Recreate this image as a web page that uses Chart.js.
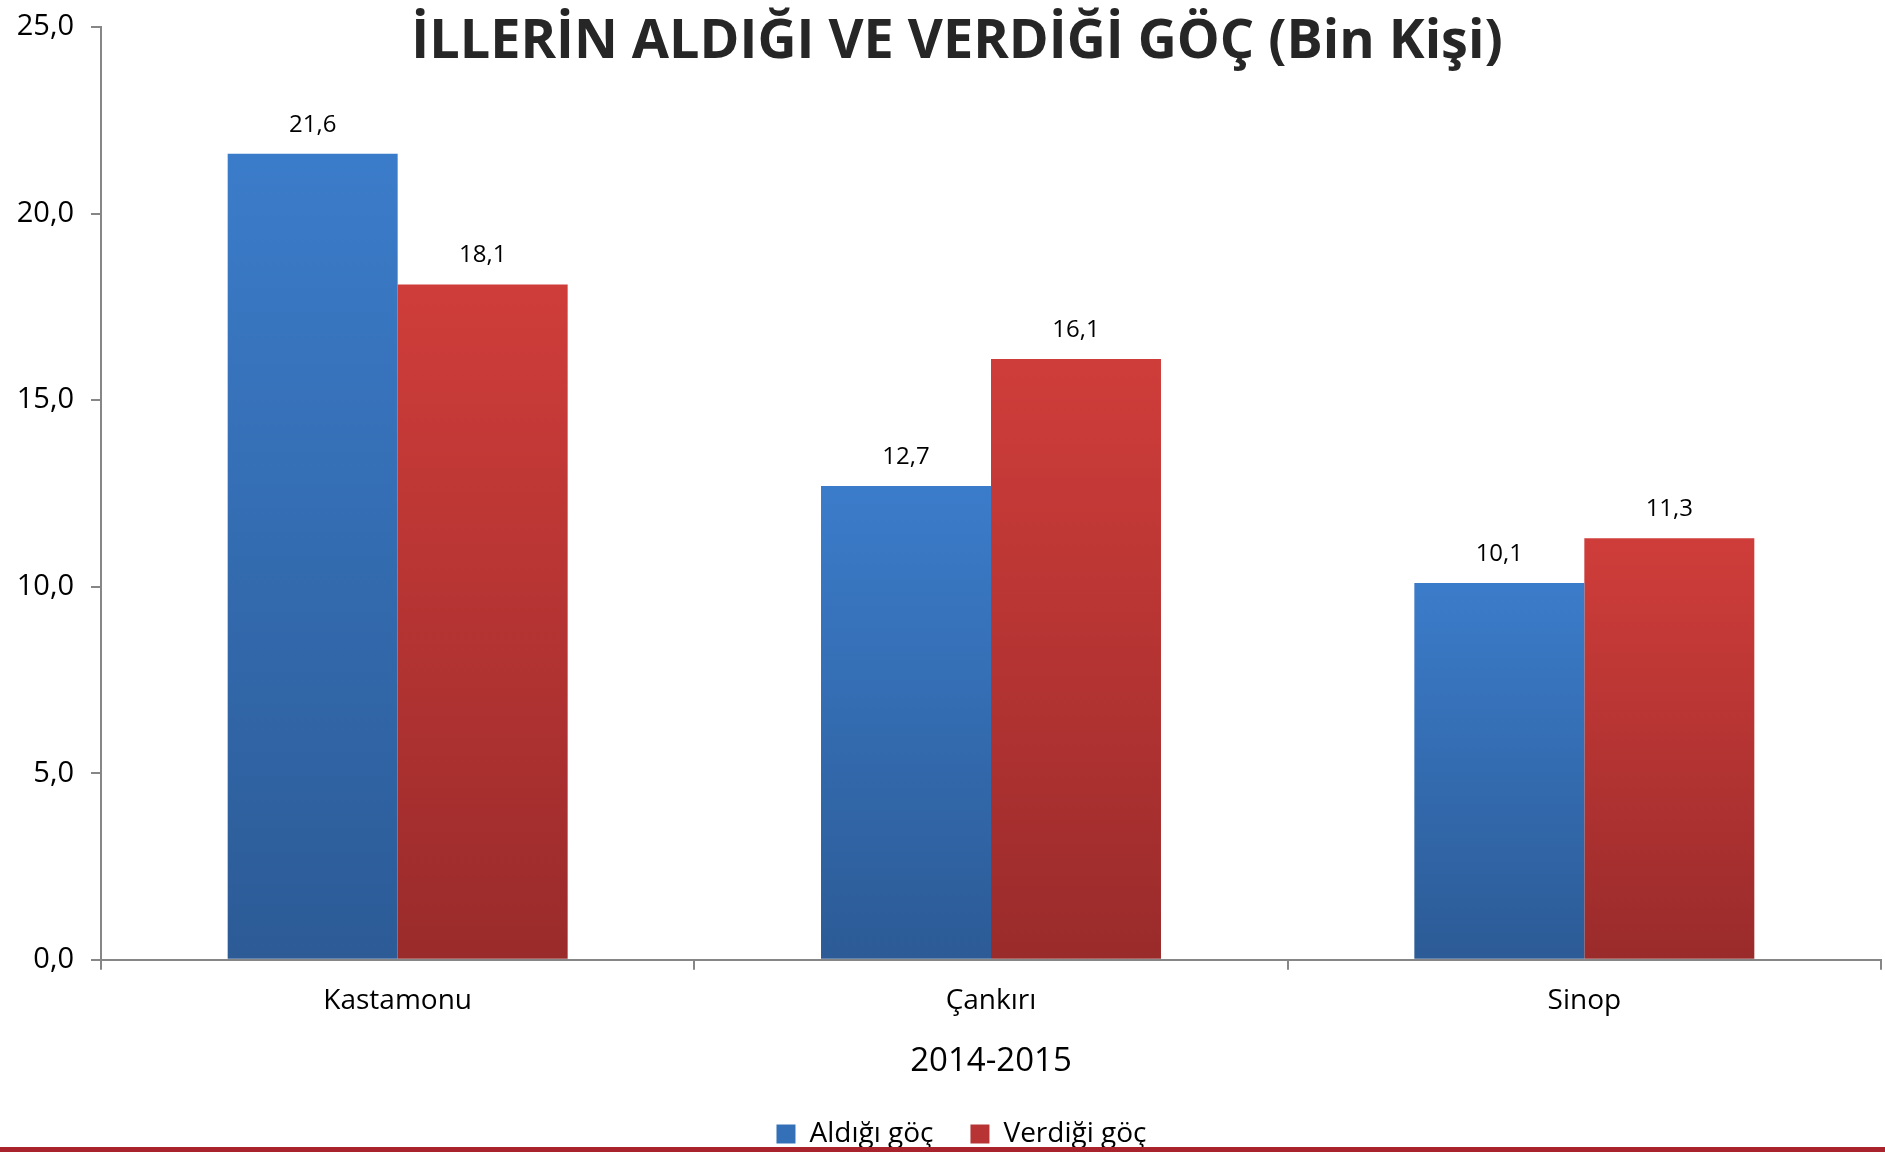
<!DOCTYPE html>
<html>
<head>
<meta charset="utf-8">
<script src="https://cdn.jsdelivr.net/npm/chart.js@4.4.1/dist/chart.umd.min.js"></script>
<style>
  html, body { margin: 0; padding: 0; background: #fff; overflow: hidden; }
  #wrap { width: 1885px; height: 1158px; position: relative; }
  #line { position: absolute; left: 0; top: 1147px; width: 1885px; height: 5px; background: #a8232b; }
</style>
</head>
<body>
<div id="wrap"><canvas id="gocChart"></canvas></div>
<div id="line"></div>
<script>
// Veriler
const iller = ['Kastamonu', 'Çankırı', 'Sinop'];
const aldigiGoc = [21.6, 12.7, 10.1];
const verdigiGoc = [18.1, 16.1, 11.3];
const seriAdlari = ['Aldığı göç', 'Verdiği göç'];
const yTicks = [0, 5, 10, 15, 20, 25];
const baslik = 'İLLERİN ALDIĞI VE VERDİĞİ GÖÇ (Bin Kişi)';
const xBaslik = '2014-2015';

const fontAd = "'Open Sans', sans-serif";
const virgul = v => v.toFixed(1).replace('.', ',');

// Her çubuk için dikey degrade
function degrade(ust, alt) {
    return function (c) {
        const chart = c.chart;
        const area = chart.chartArea;
        if (!area || c.raw === undefined) return ust;
        const y = chart.scales.y;
        const g = chart.ctx.createLinearGradient(0, y.getPixelForValue(c.raw), 0, area.bottom);
        g.addColorStop(0, ust);
        g.addColorStop(1, alt);
        return g;
    };
}

// Çubukların üstündeki değerler, başlık ve lejant kaydırma
const etiketPlugin = {
    id: 'etiketler',
    afterLayout(chart) {
        // lejantı başlıkla aynı eksene ortala
        chart.legend.left += 21;
        chart.legend.right += 21;
    },
    afterDatasetsDraw(chart) {
        const ctx = chart.ctx;
        ctx.save();
        ctx.fillStyle = '#000';
        ctx.font = "24px " + fontAd;
        ctx.textAlign = 'center';
        ctx.textBaseline = 'middle';
        chart.data.datasets.forEach((ds, i) => {
            chart.getDatasetMeta(i).data.forEach((bar, j) => {
                ctx.fillText(virgul(ds.data[j]), bar.x, bar.y - 29);
            });
        });
        ctx.font = "bold 54px " + fontAd;
        ctx.fillStyle = '#262626';
        ctx.textBaseline = 'alphabetic';
        ctx.fillText(baslik, 957, 58);
        ctx.restore();
    }
};

const eksenRenk = '#868686';
const ctx = document.getElementById('gocChart').getContext('2d');
const gocChart = new Chart(ctx, {
    type: 'bar',
    data: {
        labels: iller,
        datasets: [{
            label: seriAdlari[0],
            data: aldigiGoc,
            backgroundColor: degrade('#3b7cca', '#2c5b96'),
            categoryPercentage: 0.573,
            barPercentage: 1.0
        }, {
            label: seriAdlari[1],
            data: verdigiGoc,
            backgroundColor: degrade('#cf3d3a', '#9a2b2b'),
            categoryPercentage: 0.573,
            barPercentage: 1.0
        }]
    },
    options: {
        responsive: true,
        maintainAspectRatio: false,
        animation: false,
        layout: { padding: { left: 0, right: 4, top: 27, bottom: 0 } },
        plugins: {
            tooltip: { enabled: false },
            legend: {
                position: 'bottom',
                labels: {
                    color: '#000',
                    font: { family: fontAd, size: 28 },
                    boxWidth: 19,
                    boxHeight: 19,
                    padding: 37,
                    generateLabels(chart) {
                        const renk = ['#3470b8', '#b83434'];
                        return chart.data.datasets.map((ds, i) => ({
                            text: ds.label,
                            fillStyle: renk[i],
                            strokeStyle: renk[i],
                            lineWidth: 0,
                            datasetIndex: i,
                            fontColor: '#000'
                        }));
                    }
                }
            }
        },
        scales: {
            x: {
                grid: {
                    offset: true,
                    drawOnChartArea: false,
                    drawTicks: true,
                    tickLength: 10,
                    color: eksenRenk,
                    lineWidth: 2
                },
                border: { color: eksenRenk, width: 2 },
                ticks: {
                    color: '#000',
                    font: { family: fontAd, size: 28 },
                    padding: 14
                },
                title: {
                    display: true,
                    text: xBaslik,
                    color: '#000',
                    font: { family: fontAd, size: 33 },
                    padding: { top: 10, bottom: 2 }
                }
            },
            y: {
                min: 0,
                max: 25,
                afterBuildTicks(scale) {
                    scale.ticks = yTicks.map(v => ({ value: v }));
                },
                afterFit(scale) {
                    scale.width = 101;
                    scale.paddingTop = 0;
                    scale.paddingBottom = 0;
                },
                grid: {
                    drawOnChartArea: false,
                    drawTicks: true,
                    tickLength: 10,
                    color: eksenRenk,
                    lineWidth: 2
                },
                border: { color: eksenRenk, width: 2 },
                ticks: {
                    color: '#000',
                    font: { family: fontAd, size: 29 },
                    padding: 17,
                    callback: v => virgul(v)
                }
            }
        }
    },
    plugins: [etiketPlugin]
});
</script>
</body>
</html>
